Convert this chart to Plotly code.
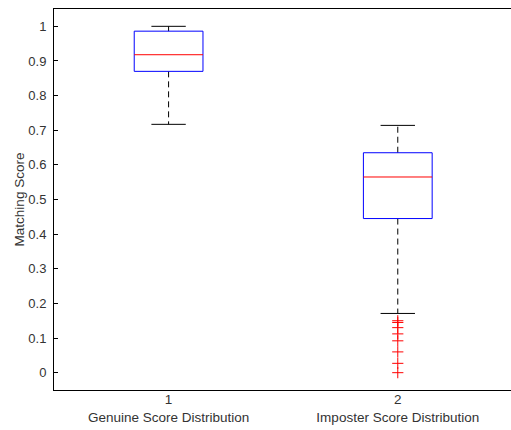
import plotly.graph_objects as go

# ---- data ----
categories = ["Genuine Score Distribution", "Imposter Score Distribution"]
positions = [1, 2]
whisker_low = [0.717, 0.171]
q1 = [0.870, 0.445]
median = [0.918, 0.565]
q3 = [0.986, 0.635]
whisker_high = [1.000, 0.714]
outliers_imposter = [0.150, 0.145, 0.130, 0.112, 0.092, 0.060, 0.027, 0.000]
y_ticks = [0, 0.1, 0.2, 0.3, 0.4, 0.5, 0.6, 0.7, 0.8, 0.9, 1]

box_half = 0.15
cap_half = 0.075

fig = go.Figure()
for i, p in enumerate(positions):
    # whiskers (dashed)
    fig.add_trace(go.Scatter(x=[p, p, None, p, p],
                             y=[q3[i], whisker_high[i], None, q1[i], whisker_low[i]],
                             mode="lines", line=dict(color="black", width=1, dash="6px,4px"),
                             hoverinfo="skip", showlegend=False))
    # caps
    fig.add_trace(go.Scatter(x=[p - cap_half, p + cap_half, None, p - cap_half, p + cap_half],
                             y=[whisker_high[i], whisker_high[i], None, whisker_low[i], whisker_low[i]],
                             mode="lines", line=dict(color="black", width=1),
                             hoverinfo="skip", showlegend=False))
    # box
    fig.add_trace(go.Scatter(x=[p - box_half, p + box_half, p + box_half, p - box_half, p - box_half],
                             y=[q1[i], q1[i], q3[i], q3[i], q1[i]],
                             mode="lines", line=dict(color="#0000ff", width=1),
                             hoverinfo="skip", showlegend=False))
    # median
    fig.add_trace(go.Scatter(x=[p - box_half, p + box_half], y=[median[i], median[i]],
                             mode="lines", line=dict(color="#ff0000", width=1),
                             hoverinfo="skip", showlegend=False))

fig.add_trace(go.Scatter(x=[positions[1]] * len(outliers_imposter), y=outliers_imposter,
                         mode="markers",
                         marker=dict(symbol="cross-thin", size=8, line=dict(color="#ff0000", width=1)),
                         hoverinfo="skip", showlegend=False))

fig.update_layout(
    width=511, height=430,
    margin=dict(l=54, r=0, t=9, b=40),
    paper_bgcolor="white", plot_bgcolor="white",
    font=dict(family="Liberation Sans, Arial, sans-serif", size=13, color="#333"),
    xaxis=dict(range=[0.5, 2.494], tickvals=positions,
               ticktext=[f"{p}<br>{c}" for p, c in zip(positions, categories)],
               tickfont=dict(size=13.5),
               ticks="", showgrid=False, zeroline=False, showline=True,
               linecolor="black", linewidth=1, mirror=True, fixedrange=True,
               automargin=False, ticklabelstandoff=-3),
    yaxis=dict(range=[-0.05, 1.05], tickvals=y_ticks,
               ticktext=[f"{v:g}" for v in y_ticks],
               ticks="inside", ticklen=4, tickcolor="black",
               showgrid=False, zeroline=False, showline=True,
               linecolor="black", linewidth=1, mirror=False,
               automargin=False, ticklabelstandoff=4,
               title=dict(text="Matching Score", standoff=0,
                          font=dict(family="Liberation Sans, Arial, sans-serif", size=13.5, color="#333")),
               fixedrange=True),
)

fig.write_html("out.html", config={"displayModeBar": False},
               post_script="document.body.style.margin='0px';document.body.style.overflow='hidden';")
